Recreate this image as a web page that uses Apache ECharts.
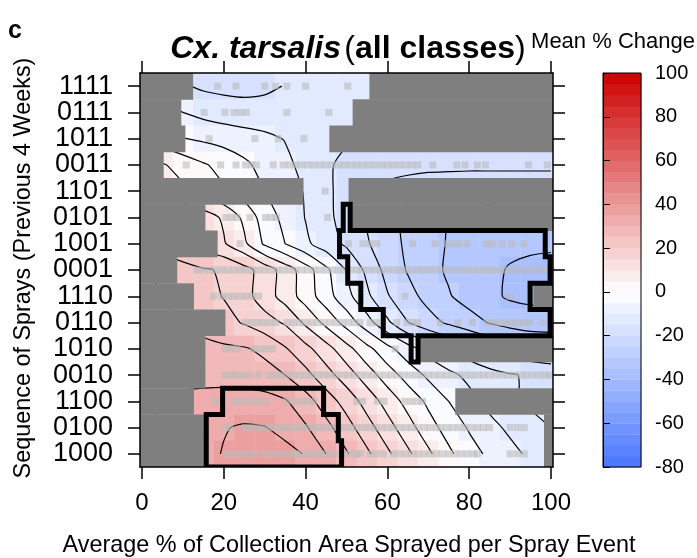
<!DOCTYPE html>
<html><head><meta charset="utf-8">
<script src="https://cdn.jsdelivr.net/npm/echarts@6/dist/echarts.min.js"></script>
<style>html,body{margin:0;padding:0;background:#fff}#c{width:697px;height:558px}</style>
</head><body><div id="c"></div>
<script>
// ---------------- data ----------------
const rowLabels = ['1111','0111','1011','0011','1101','0101','1001','0001','1110','0110','1010','0010','1100','0100','1000'];
const xGrid = [0,5,10,15,20,25,30,35,40,45,50,55,60,65,70,75,80,85,90,95,100];
const xTickValues = [0,20,40,60,80,100];
const colorTicks = [-80,-60,-40,-20,0,20,40,60,80,100];

// mean % change, one array per spray sequence (values at xGrid)
const v1111 = [-11,-12.5,-14.5,-15.8,-16.3,-16.5,-16,-14.8,-13.5,-12.5,-11.5,-11,-11,-11,-11,-11,-11,-11,-11,-11,-11];
const v0111 = [-7,-8.5,-10,-11.5,-12.5,-13,-13,-12.8,-12.5,-12.3,-12.2,-12.4,-12.6,-12.8,-13,-13,-13,-13,-13,-13,-13];
const v1011 = [-1,-3,-4.8,-5.8,-6.8,-7.8,-8.9,-10.2,-11.8,-13.4,-14.6,-15.6,-16.2,-16.5,-16.6,-16.6,-16.6,-16.6,-16.6,-16.6,-16.6];
const v0011 = [7,5.5,3,0.5,-1.5,-4,-6.7,-8.9,-11.4,-14.4,-16,-16.8,-17.2,-17.4,-17.6,-17.6,-17.6,-17.6,-17.6,-17.6,-17.6];
const v1101 = [10,8,6,3.5,0.5,-2.5,-5,-7.7,-10.4,-13.8,-17.2,-20.2,-22,-24,-26,-27,-28,-28,-28,-28,-28];
const v0101 = [20,17,14.5,12.5,9.2,3.8,-2.5,-6.4,-10.2,-13.6,-17.2,-20.5,-23.5,-26,-28,-30.2,-31,-32,-32.5,-33,-33];
const v1001 = [22,18,15.5,13,10.5,6,-0.8,-5,-9,-12.6,-15.8,-19.5,-23,-25.9,-28.1,-30.4,-32,-33,-33.8,-34.2,-34.5];
const v0001 = [25,23.5,22,20.5,19.5,16.8,12.8,7.8,2.4,-3.8,-10.2,-16.2,-21.7,-25.4,-28.3,-30.7,-32.3,-33.9,-35.4,-36,-36];
const v1110 = [27,25.5,23.5,21.5,19.8,16.8,12.5,7.9,2.8,-2.8,-8.4,-13.9,-19.6,-23.3,-26.6,-29.6,-32,-34,-35.6,-36,-36];
const v0110 = [26,25.5,24.5,23,21.5,19.6,17,14.4,9,3.6,-2,-8,-14,-19.9,-23.2,-25.8,-28,-30.3,-32,-33,-33];
const v1010 = [26,26.5,26.5,26.5,25.8,25.4,24,20.5,16.5,12,6.8,1.5,-3.5,-8,-12,-15,-18,-20.5,-22.5,-24,-25];
const v0010 = [27,27.5,28,28,27.8,27.2,26.6,25,21.5,17,12.5,7.5,2.5,-2,-6,-8.8,-11.2,-13.2,-14.6,-15.6,-16.3];
const v1100 = [29,30.5,31.5,32,32.5,32.6,32,30.5,27,22.5,18,13,8,3.2,-1,-5,-8.5,-11.5,-14,-16,-17];
const v0100 = [28,30.5,32.5,34,34.8,35.4,35.2,33.5,30.5,26.5,22,17,12,7,2,-2,-5.5,-8.5,-11,-13,-15];
const v1000 = [27,30,32.5,34,35.2,36.5,37,36.5,34.7,30,25.5,21,16,11,6,1,-3,-6,-8.5,-11,-13];
const valueRows = [v1111,v0111,v1011,v0011,v1101,v0101,v1001,v0001,v1110,v0110,v1010,v0010,v1100,v0100,v1000];

// extent of the observed data (outside: grey) per row
const coverStart = [12.4, 9.5, 10.5, 5.2, 39.4, 15.4, 18.4, 8.5, 12.6, 20.3, 15.4, 15.4, 12.6, 15.4, 15.4];
const coverEnd   = [55.6, 51.5, 45.8, 100.5, 50.5, 50.5, 100.5, 100.5, 95.7, 100.5, 67.6, 100.5, 76.6, 98.3, 98.3];

// significant regions (rows and x-ranges)
const sigARows  = [5, 6, 7, 8, 9, 10];
const sigAStart = [49.2, 48.3, 50.3, 53.5, 59, 65.8];
const sigAEnd   = [50.9, 98.6, 99.8, 94.9, 99.8, 67.5];
const sigBRows  = [12, 13, 14];
const sigBStart = [19.7, 15.7, 15.7];
const sigBEnd   = [44.4, 48.0, 48.8];

// observations (x positions per row)
const d1111 = [18.5,23,30,32.7,35.4,40,50.3];
const d0111 = [15.2,20.3,22.5,24,25.5,35.4,45.7];
const d1011 = [16.4,27.6,33.3,39.6];
const d0011 = [10.8,19.2,23,25.3,26.8,28,32.1,34.5,36,37.5,39,40.5,42,43.5,45,46.5,48,49.5,51,52.5,54,55.5,57,58.5,60,61.5,63,64.5,66,67.5,71.1,77,79,82,84,94.5,99.1];
const d1101 = [44.8];
const d0101 = [20.5,22,23.2,26.4,30.2,31.6,32.8,45.4];
const d1001 = [24,50.5,54,55.7,57.4,66.2,71.7,74.5,76,77.5,79.5,84.3,85.8,88,90.4,93.4];
const d0001 = [13.5,15,16.5,18,19.5,21,22.5,24,25.5,27,28.5,30,31.5,33,34.5,36,37.5,39,40.5,42,43.5,45,46.5,48,49.5,51,52.5,54,55.5,57,58.5,60,61.5,63,64.5,66,67.5,69,70.5,72,73.5,75,76.5,78,79.5,81,82.5,84,85.5,87,88.5,90,91.5,93,94.5,96,97.5,99];
const d1110 = [17.5,19.5,21,22.5,24,25.5,27,28.5,64.3,89.9];
const d0110 = [25.2,26.7,28.2,29.7,31.2,32.7,35.4,37,38.5,40,41.5,43,44.5,46,47.5,49,50.5,52,53.3,55.8,57.4,62.3,64.7,66.2,67.4,72.9,77.2,80.8,84.3,85.8,87.3,88.8,90.3,91.8,93.3,94.8,98];
const d1010 = [20.3,21.8,23.3,27.2,28.7,30.2,31.8,61.9];
const d0010 = [20.3,22,23.2,24.8,26.5,28.5,31,32.5,34,35.5,37,38.5,40,41.5,43,44.5,46,47.5,49,50.5,52,53.5,55,56.5,58,59.5,61,62.5,64,65.5,67,68.5,70,71.5,73,74.5,76,77.5,79,80.5,82,83.5,85,86.5,88,89.5,91,92.5,94,95.5,97,98.5,99.6];
const d1100 = [17.9,22.5,24,25.5,27,28.6,30.2,35.4,37.5,39,40.5,42,52.5,54,57.6,59.2,64.2,65.8,67.3,68.6];
const d0100 = [20.3,21.5,25.2,26.8,28.5,30,31.5,33,34.5,36,37.5,39,40.5,42,43.5,45,46.5,48,49.5,51,52.5,54,55.5,57,58.5,60,61.5,63,64.5,66,67.5,69,70.5,72,73,74.5,76,77.5,79,80.5,82,83.5,85,90,91.8,93.5];
const d1000 = [20.7,22.2,23.7,25.2,26.7,28,30,31.5,33,34.5,36,37.5,39,40.5,42,43.5,45,46.5,48,49.5,51,52.5,53.5,55.8,57.3,59,61.5,63,64.5,66,67.5,69,70.5,72,73.5,75,76.5,78,79.5,81,82,90,91.8,93.5];
const dotRows = [d1111,d0111,d1011,d0011,d1101,d0101,d1001,d0001,d1110,d0110,d1010,d0010,d1100,d0100,d1000];

const contourLevels = [-35,-30,-25,-20,-15,-10,-5,0,5,10,15,20,25,30,35];

// ---------------- helpers ----------------
const FONT = 'Liberation Sans, Arial, Helvetica, sans-serif';
function rgb(r,g,b){return 'rgb('+Math.round(r)+','+Math.round(g)+','+Math.round(b)+')';}
function rampColor(c){
  if (c >= 0){const t=Math.min(c/100,1);return rgb(255-t*50,255-t*255,255-t*255);}
  const t=Math.min(-c/80,1);return rgb(255-t*183,255-t*137,255);
}
function binColor(v){const lo=Math.floor(v/5)*5;return rampColor(lo+2.5);}

const cellData = [];
valueRows.forEach((vals,r)=>{
  xGrid.forEach((x,c)=>{
    const x0=Math.max(x-2.5,coverStart[r],-0.5), x1=Math.min(x+2.5,coverEnd[r],100.5);
    if (x1>x0) cellData.push([x0,x1,r,vals[c]]);
  });
});
const maskData = [];
rowLabels.forEach((_,r)=>{
  if (coverStart[r] > -0.5) maskData.push([-0.5, coverStart[r], r]);
  if (coverEnd[r] < 100.5) maskData.push([coverEnd[r], 100.5, r]);
});
const dotData = [];
dotRows.forEach((xs,r)=>xs.forEach(x=>dotData.push([x,r])));

function contourLines(level){
  const R=valueRows.length, C=xGrid.length, segs=[];
  function ip(r1,c1,r2,c2){
    if (r1>r2 || (r1===r2 && c1>c2)){let t=r1;r1=r2;r2=t;t=c1;c1=c2;c2=t;}
    const a=valueRows[r1][c1], b=valueRows[r2][c2], t=(level-a)/(b-a);
    return [xGrid[c1]+t*(xGrid[c2]-xGrid[c1]), r1+t*(r2-r1)];
  }
  for (let r=0;r<R-1;r++) for (let c=0;c<C-1;c++){
    const nodes=[[r,c],[r,c+1],[r+1,c+1],[r+1,c]];
    const v=nodes.map(n=>valueRows[n[0]][n[1]]);
    const up=v.map(a=>a>=level);
    const ep=k=>{const a=nodes[k],b=nodes[(k+1)%4];return ip(a[0],a[1],b[0],b[1]);};
    const cr=[];for(let k=0;k<4;k++) if(up[k]!==up[(k+1)%4]) cr.push(k);
    if (cr.length===2) segs.push([ep(cr[0]),ep(cr[1])]);
    else if (cr.length===4){
      const ctr=(v[0]+v[1]+v[2]+v[3])/4>=level;
      if (ctr===up[0]){segs.push([ep(0),ep(1)]);segs.push([ep(2),ep(3)]);}
      else {segs.push([ep(3),ep(0)]);segs.push([ep(1),ep(2)]);}
    }
  }
  const key=p=>p[0].toFixed(6)+','+p[1].toFixed(6);
  const adj={};
  segs.forEach((s,i)=>{[0,1].forEach(j=>{const k=key(s[j]);(adj[k]=adj[k]||[]).push(i);});});
  const used=new Array(segs.length).fill(false), lines=[];
  function walk(start){
    const line=[segs[start][0],segs[start][1]];used[start]=true;
    for (let dir=0;dir<2;dir++){
      let grow=true;
      while(grow){
        grow=false;
        const end=dir===0?line[line.length-1]:line[0];
        const cand=adj[key(end)]||[];
        for (const i of cand){
          if (used[i]) continue;
          used[i]=true;grow=true;
          const s=segs[i];const nxt=key(s[0])===key(end)?s[1]:s[0];
          if (dir===0) line.push(nxt); else line.unshift(nxt);
          break;
        }
      }
    }
    return line;
  }
  segs.forEach((_,i)=>{if(!used[i]) lines.push(walk(i));});
  return lines;
}
const contourPolys = [];
contourLevels.forEach(L=>contourLines(L).forEach(l=>contourPolys.push(l)));

function regionOutline(rows,starts,ends){
  const pts=[];
  rows.forEach((r,i)=>{pts.push([ends[i],r-0.5]);pts.push([ends[i],r+0.5]);});
  for (let i=rows.length-1;i>=0;i--){pts.push([starts[i],rows[i]+0.5]);pts.push([starts[i],rows[i]-0.5]);}
  return pts;
}
const outlines = [regionOutline(sigARows,sigAStart,sigAEnd), regionOutline(sigBRows,sigBStart,sigBEnd)];

const bandData = [];
for (let i=0;i<colorTicks.length-1;i++){
  for (let k=0;k<4;k++){const lo=colorTicks[i]+k*5;bandData.push([lo,lo+5]);}
}

function rectItem(api,x0,x1,y0,y1,style){
  const p0=api.coord([x0,y0]), p1=api.coord([x1,y1]);
  return {type:'rect',shape:{x:Math.min(p0[0],p1[0]),y:Math.min(p0[1],p1[1]),width:Math.abs(p1[0]-p0[0])+0.4,height:Math.abs(p1[1]-p0[1])+0.4},style:style};
}

const chart = echarts.init(document.getElementById('c'), null, {renderer:'canvas'});
const axisLineStyle = {color:'#000', width:1.5};
const rowIdx = rowLabels.map((_,i)=>i);
chart.setOption({
  animation:false,
  backgroundColor:'#fff',
  grid:[
    {left:140, top:73, width:413, height:394, outerBoundsMode:'none'},
    {left:603, top:73, width:38, height:394, outerBoundsMode:'none'}
  ],
  xAxis:[
    {gridIndex:0,type:'value',min:-0.5,max:100.5,position:'bottom',z:10,
     axisLine:{show:true,onZero:false,lineStyle:axisLineStyle},
     axisTick:{show:true,length:12,customValues:xTickValues,lineStyle:axisLineStyle},
     axisLabel:{show:true,customValues:xTickValues,showMinLabel:true,showMaxLabel:true,fontSize:24,color:'#000',fontFamily:FONT,margin:24},
     splitLine:{show:false}},
    {gridIndex:0,type:'value',min:-0.5,max:100.5,position:'top',z:10,
     axisLine:{show:true,onZero:false,lineStyle:axisLineStyle},
     axisTick:{show:true,length:12,customValues:xTickValues,lineStyle:axisLineStyle},
     axisLabel:{show:false},splitLine:{show:false}},
    {gridIndex:1,type:'value',min:0,max:1,show:false}
  ],
  yAxis:[
    {gridIndex:0,type:'value',min:-0.5,max:14.5,inverse:true,position:'left',z:10,
     axisLine:{show:true,onZero:false,lineStyle:axisLineStyle},
     axisTick:{show:true,length:12,customValues:rowIdx,lineStyle:axisLineStyle},
     axisLabel:{show:false},
     splitLine:{show:false}},
    {gridIndex:0,type:'value',min:-0.5,max:14.5,inverse:true,position:'right',z:10,
     axisLine:{show:true,onZero:false,lineStyle:axisLineStyle},
     axisTick:{show:true,length:12,customValues:rowIdx,lineStyle:axisLineStyle},
     axisLabel:{show:false},splitLine:{show:false}},
    {gridIndex:1,type:'value',min:-80,max:100,interval:20,position:'right',z:10,
     axisLine:{show:true,lineStyle:{color:'#000',width:1}},
     axisTick:{show:true,length:7,lineStyle:{color:'#000',width:1}},
     axisLabel:{show:true,showMinLabel:true,showMaxLabel:true,fontSize:20,color:'#000',fontFamily:FONT,margin:14},
     splitLine:{show:false}},
    {gridIndex:0,type:'category',data:rowLabels,inverse:true,position:'left',boundaryGap:true,z:10,
     axisLine:{show:false},axisTick:{show:false},splitLine:{show:false},
     axisLabel:{show:true,interval:0,hideOverlap:false,fontSize:27,color:'#000',fontFamily:FONT,margin:27}}
  ],
  graphic:[
    {type:'text',style:{text:'c',x:8,y:31,font:'bold 25px '+FONT,fill:'#000',verticalAlign:'middle'}},
    {type:'text',style:{text:'{a|Cx. tarsalis} {p|(}{b|all classes}{p|)}',x:348,y:49,align:'center',verticalAlign:'middle',
      rich:{a:{fontSize:32,fontWeight:'bold',fontStyle:'italic',fontFamily:FONT,fill:'#000'},
            b:{fontSize:32,fontWeight:'bold',fontFamily:FONT,fill:'#000'},
            p:{fontSize:32,fontWeight:'normal',fontFamily:FONT,fill:'#000'}}}},
    {type:'text',style:{text:'Mean % Change',x:613,y:42,align:'center',verticalAlign:'middle',font:'22px '+FONT,fill:'#000'}},
    {type:'text',style:{text:'Average % of Collection Area Sprayed per Spray Event',x:349,y:545.5,align:'center',verticalAlign:'middle',font:'23.4px '+FONT,fill:'#000'}},
    {type:'text',rotation:Math.PI/2,x:24,y:268,style:{text:'Sequence of Sprays (Previous 4 Weeks)',x:0,y:0,align:'center',verticalAlign:'middle',font:'23.4px '+FONT,fill:'#000'}}
  ],
  series:[
    {type:'custom',name:'cells',xAxisIndex:0,yAxisIndex:0,z:1,silent:true,clip:true,data:cellData,
     renderItem:(p,api)=>rectItem(api,api.value(0),api.value(1),api.value(2)-0.5,api.value(2)+0.5,{fill:binColor(api.value(3))})},
    {type:'custom',name:'contours',xAxisIndex:0,yAxisIndex:0,z:2,silent:true,clip:true,data:contourPolys.map((_,i)=>[i,0]),
     renderItem:(p,api)=>({type:'polyline',shape:{points:contourPolys[p.dataIndex].map(q=>api.coord(q)),smooth:0.25},style:{stroke:'#000',lineWidth:1.2,fill:null}})},
    {type:'custom',name:'masks',xAxisIndex:0,yAxisIndex:0,z:3,silent:true,clip:true,data:maskData,
     renderItem:(p,api)=>rectItem(api,api.value(0),api.value(1),api.value(2)-0.5,api.value(2)+0.5,{fill:'#7f7f7f'})},
    {type:'scatter',name:'obs',xAxisIndex:0,yAxisIndex:0,z:4,silent:true,symbol:'rect',symbolSize:[7,7],data:dotData,
     itemStyle:{color:'rgba(187,187,187,0.75)'}},
    {type:'custom',name:'sig',xAxisIndex:0,yAxisIndex:0,z:5,silent:true,clip:true,data:outlines.map((_,i)=>[i,0]),
     renderItem:(p,api)=>({type:'polygon',shape:{points:outlines[p.dataIndex].map(q=>api.coord(q))},style:{stroke:'#000',lineWidth:5,fill:null,lineJoin:'miter'}})},
    {type:'custom',name:'bar',xAxisIndex:2,yAxisIndex:2,z:1,silent:true,data:bandData,
     renderItem:(p,api)=>rectItem(api,0,1,api.value(0),api.value(1),{fill:rampColor((api.value(0)+api.value(1))/2)})},
    {type:'custom',name:'barframe',xAxisIndex:2,yAxisIndex:2,z:6,silent:true,data:[[0,0]],
     renderItem:(p,api)=>{const a=api.coord([0,100]),b=api.coord([1,-80]);return {type:'rect',shape:{x:a[0],y:a[1],width:b[0]-a[0],height:b[1]-a[1]},style:{stroke:'#000',lineWidth:1,fill:null}};}}
  ]
});
</script>
</body></html>
